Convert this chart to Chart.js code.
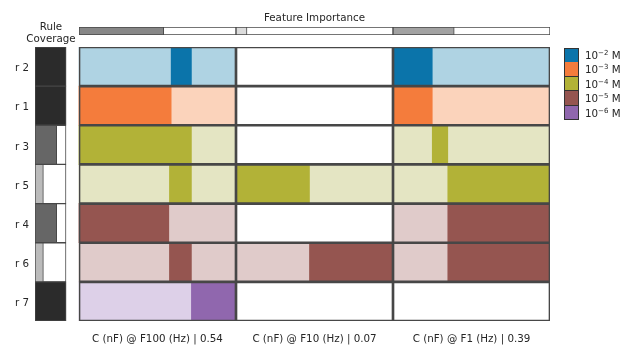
<!DOCTYPE html>
<html>
<head>
<meta charset="utf-8">
<script src="https://cdn.jsdelivr.net/npm/chart.js@4.4.1/dist/chart.umd.min.js"></script>
<style>
  html, body { margin: 0; padding: 0; background: #fff; }
  #wrap { position: relative; width: 620px; height: 348px; font-family: 'DejaVu Sans', sans-serif; color: #262626; font-size: 10.3px; }
  canvas { position: absolute; left: 0; top: 0; }
  .title { position: absolute; text-align: center; white-space: nowrap; line-height: 12px; }
  #legend { position: absolute; left: 564px; top: 48px; }
  .lg-row { position: relative; height: 14.4px; }
  .lg-box { position: absolute; left: 0; top: 0; width: 12.5px; height: 12.9px; border: 0.75px solid #333; }
  .lg-row + .lg-row .lg-box { border-top: none; height: 13.65px; top: 0; }
  .lg-text { position: absolute; left: 21px; top: 0; line-height: 14.4px; white-space: nowrap; }
  .lg-text sup { font-size: 7px; vertical-align: 4px; line-height: 0; }
</style>
</head>
<body>
<div id="wrap">
  <canvas id="main" width="620" height="348"></canvas>
  <canvas id="imp" width="620" height="48"></canvas>
  <div class="title" id="covTitle" style="left:20px; width:62px; top:20px;">Rule<br>Coverage</div>
  <div class="title" id="impTitle" style="left:214px; width:201px; top:11px;">Feature Importance</div>
  <div id="legend"></div>
</div>
<script>
// ---- data ----
const rules = ['r 2', 'r 1', 'r 3', 'r 5', 'r 4', 'r 6', 'r 7'];
const coverage = [1.0, 1.0, 0.70, 0.27, 0.70, 0.27, 1.0];
const ruleClass = [0, 1, 2, 2, 3, 3, 4];           // index into concentrations
const concentrations = ['-2', '-3', '-4', '-5', '-6'];  // exponents of 10 M
const features = ['C (nF) @ F100 (Hz)', 'C (nF) @ F10 (Hz)', 'C (nF) @ F1 (Hz)'];
const importance = [0.54, 0.07, 0.39];
// selected interval of each feature (scaled 0..1) per rule; null = feature unused
const condF100 = [[0.587, 0.716], [0, 0.587], [0, 0.716], [0.576, 0.716], [0, 0.572], [0.576, 0.716], [0.716, 1]];
const condF10  = [null, null, null, [0, 0.468], null, [0.468, 1], null];
const condF1   = [[0, 0.25], [0, 0.25], [0.25, 0.349], [0.349, 1], [0.349, 1], [0.349, 1], null];
const conditions = [condF100, condF10, condF1];

// ---- styles ----
const darkColors  = ['#0b74aa', '#f47c3c', '#b2b237', '#955550', '#9067ae'];
const lightColors = ['#afd3e3', '#fbd3bb', '#e4e5c3', '#e0cbca', '#ddd0e8'];
const EDGE = '#474747';
const TEXT = '#262626';
const FONT = { family: "'DejaVu Sans', sans-serif", size: 10.3 };

function grey(level) {
  const v = Math.max(0, Math.min(255, Math.round(level)));
  return `rgb(${v},${v},${v})`;
}
const coverageShade = c => grey(240 - 197 * c);
const importanceShade = v => grey(233 - 181 * v);

// ---- layout (pixels) ----
const AREA_LEFT = 35, AREA_RIGHT = 550, AREA_TOP = 47, AREA_BOTTOM = 321;
const GRID_LEFT = 79, COV_WIDTH = 31, W = 620, H = 348;
const unitPx = (AREA_RIGHT - GRID_LEFT) / features.length;
const xMin = -(GRID_LEFT - AREA_LEFT) / unitPx;
const covMax = (AREA_RIGHT - AREA_LEFT) / COV_WIDTH;

Chart.defaults.font.family = FONT.family;
Chart.defaults.font.size = FONT.size;
Chart.defaults.color = TEXT;

const barBase = {
  xAxisID: 'x',
  borderSkipped: false,
  barPercentage: 1,
  categoryPercentage: 1,
  grouped: false,
  borderWidth: 0
};

const datasets = [];

// rule coverage column
datasets.push(Object.assign({}, barBase, {
  label: 'coverage',
  xAxisID: 'xCov',
  data: coverage.map(c => [0, c]),
  backgroundColor: coverage.map(coverageShade),
  borderColor: EDGE,
  borderWidth: 1,
  order: 1
}));
datasets.push(Object.assign({}, barBase, {
  label: 'coverage frame',
  xAxisID: 'xCov',
  data: rules.map(() => [0, 1]),
  backgroundColor: '#ffffff',
  borderColor: EDGE,
  borderWidth: 1,
  order: 2
}));

// feature cells: light full range, dark selected interval, frame on top
conditions.forEach((cond, f) => {
  datasets.push(Object.assign({}, barBase, {
    label: features[f] + ' range',
    data: cond.map(c => c ? [f, f + 1] : null),
    backgroundColor: cond.map((c, r) => lightColors[ruleClass[r]]),
    order: 5
  }));
  datasets.push(Object.assign({}, barBase, {
    label: features[f] + ' selected',
    data: cond.map(c => c ? [f + c[0], f + c[1]] : null),
    backgroundColor: cond.map((c, r) => darkColors[ruleClass[r]]),
    order: 4
  }));
  datasets.push(Object.assign({}, barBase, {
    label: features[f] + ' frame',
    data: rules.map(() => [f, f + 1]),
    backgroundColor: 'rgba(0,0,0,0)',
    borderColor: EDGE,
    borderWidth: 1,
    order: 3
  }));
});

new Chart(document.getElementById('main'), {
  type: 'bar',
  data: { labels: rules, datasets },
  options: {
    indexAxis: 'y',
    responsive: false,
    animation: false,
    events: [],
    layout: { padding: { top: AREA_TOP, right: W - AREA_RIGHT, bottom: 0, left: 0 } },
    plugins: { legend: { display: false }, tooltip: { enabled: false }, title: { display: false } },
    scales: {
      x: {
        type: 'linear',
        min: xMin,
        max: features.length,
        grid: { display: false, drawTicks: false },
        border: { display: false },
        afterBuildTicks: s => { s.ticks = features.map((_, i) => ({ value: i + 0.5 })); },
        afterFit: s => { s.height = H - AREA_BOTTOM; },
        ticks: {
          autoSkip: false,
          maxRotation: 0,
          minRotation: 0,
          padding: 12,
          color: TEXT,
          callback: (v, i) => `${features[i]} | ${importance[i].toFixed(2)}`
        }
      },
      xCov: {
        type: 'linear',
        display: false,
        min: 0,
        max: covMax
      },
      y: {
        type: 'category',
        offset: true,
        grid: { display: false, drawTicks: false },
        border: { display: false },
        afterFit: s => { s.width = AREA_LEFT; },
        ticks: { padding: 6, color: TEXT, labelOffset: 2 }
      }
    }
  }
});

// feature importance strip
const impSets = [];
importance.forEach((v, f) => {
  impSets.push(Object.assign({}, barBase, {
    label: features[f] + ' importance',
    data: [[f, f + v]],
    backgroundColor: importanceShade(v),
    borderColor: EDGE,
    borderWidth: 1,
    order: 1
  }));
  impSets.push(Object.assign({}, barBase, {
    label: features[f] + ' importance frame',
    data: [[f, f + 1]],
    backgroundColor: '#ffffff',
    borderColor: EDGE,
    borderWidth: 1,
    order: 2
  }));
});

new Chart(document.getElementById('imp'), {
  type: 'bar',
  data: { labels: ['importance'], datasets: impSets },
  options: {
    indexAxis: 'y',
    responsive: false,
    animation: false,
    events: [],
    layout: { padding: { top: 27, right: W - AREA_RIGHT, bottom: 48 - 35, left: GRID_LEFT } },
    plugins: { legend: { display: false }, tooltip: { enabled: false } },
    scales: {
      x: { type: 'linear', display: false, min: 0, max: features.length },
      y: { type: 'category', display: false, offset: true }
    }
  }
});

// concentration legend
const legend = document.getElementById('legend');
concentrations.forEach((exp, i) => {
  const row = document.createElement('div');
  row.className = 'lg-row';
  const box = document.createElement('div');
  box.className = 'lg-box';
  box.style.background = darkColors[i];
  const txt = document.createElement('div');
  txt.className = 'lg-text';
  txt.innerHTML = `10<sup>${exp.replace('-', '\u2212')}</sup> M`;
  row.appendChild(box);
  row.appendChild(txt);
  legend.appendChild(row);
});
</script>
</body>
</html>
